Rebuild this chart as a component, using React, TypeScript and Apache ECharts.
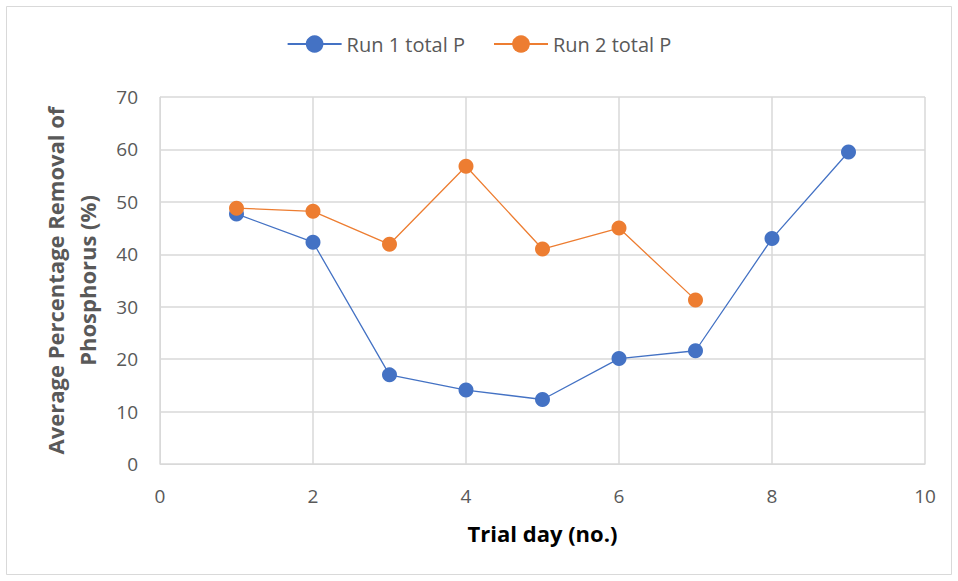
import React, { useEffect, useRef } from "react";
import * as echarts from "echarts";

const days1 = [1, 2, 3, 4, 5, 6, 7, 8, 9];
const run1 = [47.7, 42.3, 17.0, 14.1, 12.3, 20.1, 21.6, 43.0, 59.5];
const days2 = [1, 2, 3, 4, 5, 6, 7];
const run2 = [48.8, 48.2, 41.9, 56.8, 41.0, 45.0, 31.3];
const seriesNames = ["Run 1 total P", "Run 2 total P"];
const xTitle = "Trial day (no.)";
const yTitle = "Average Percentage Removal of\nPhosphorus (%)";

export default function App() {
  const ref = useRef<HTMLDivElement>(null);
  useEffect(() => {
    const chart = echarts.init(ref.current!, null, { renderer: "svg" });
    const font = "'Open Sans', 'Noto Sans', sans-serif";
    chart.setOption({
      animation: false,
      backgroundColor: "#fff",
      textStyle: { fontFamily: font },
      graphic: [
        {
          type: "rect",
          shape: { x: 6.5, y: 6.5, width: 945, height: 568 },
          style: { fill: "none", stroke: "#d9d9d9", lineWidth: 1 },
          silent: true,
        },
      ],
      legend: {
        top: 29,
        left: "center",
        itemGap: 28,
        itemWidth: 54,
        itemHeight: 22,
        textStyle: { color: "#595959", fontSize: 20, fontFamily: font },
        data: seriesNames,
      },
      grid: { left: 160, right: 33, top: 97, bottom: 117 },
      xAxis: {
        type: "value",
        min: 0,
        max: 10,
        interval: 2,
        name: xTitle,
        nameLocation: "middle",
        nameGap: 58,
        nameTextStyle: { color: "#000", fontSize: 22, fontWeight: "bold", fontFamily: font },
        axisLine: { show: true, lineStyle: { color: "#d9d9d9", width: 1 } },
        axisTick: { show: false },
        axisLabel: { color: "#595959", fontSize: 19, margin: 22 },
        splitLine: { show: true, lineStyle: { color: "#d9d9d9", width: 1.5 } },
      },
      yAxis: {
        type: "value",
        min: 0,
        max: 70,
        interval: 10,
        name: yTitle,
        nameLocation: "middle",
        nameGap: 57,
        nameTextStyle: { color: "#595959", fontSize: 22, fontWeight: "bold", fontFamily: font, lineHeight: 32 },
        axisLine: { show: true, lineStyle: { color: "#d9d9d9", width: 1 } },
        axisTick: { show: false },
        axisLabel: { color: "#595959", fontSize: 19, margin: 22 },
        splitLine: { show: true, lineStyle: { color: "#d9d9d9", width: 1.5 } },
      },
      series: [
        {
          name: seriesNames[0],
          type: "line",
          data: days1.map((d, i) => [d, run1[i]]),
          symbol: "circle",
          symbolSize: 15,
          itemStyle: { color: "#4472c4" },
          lineStyle: { color: "#4472c4", width: 1.3 },
        },
        {
          name: seriesNames[1],
          type: "line",
          data: days2.map((d, i) => [d, run2[i]]),
          symbol: "circle",
          symbolSize: 15,
          itemStyle: { color: "#ed7d31" },
          lineStyle: { color: "#ed7d31", width: 1.3 },
        },
      ],
    });
    return () => chart.dispose();
  }, []);
  return (
    <div
      ref={ref}
      style={{ position: "absolute", left: 0, top: 0, width: 958, height: 581 }}
    />
  );
}
